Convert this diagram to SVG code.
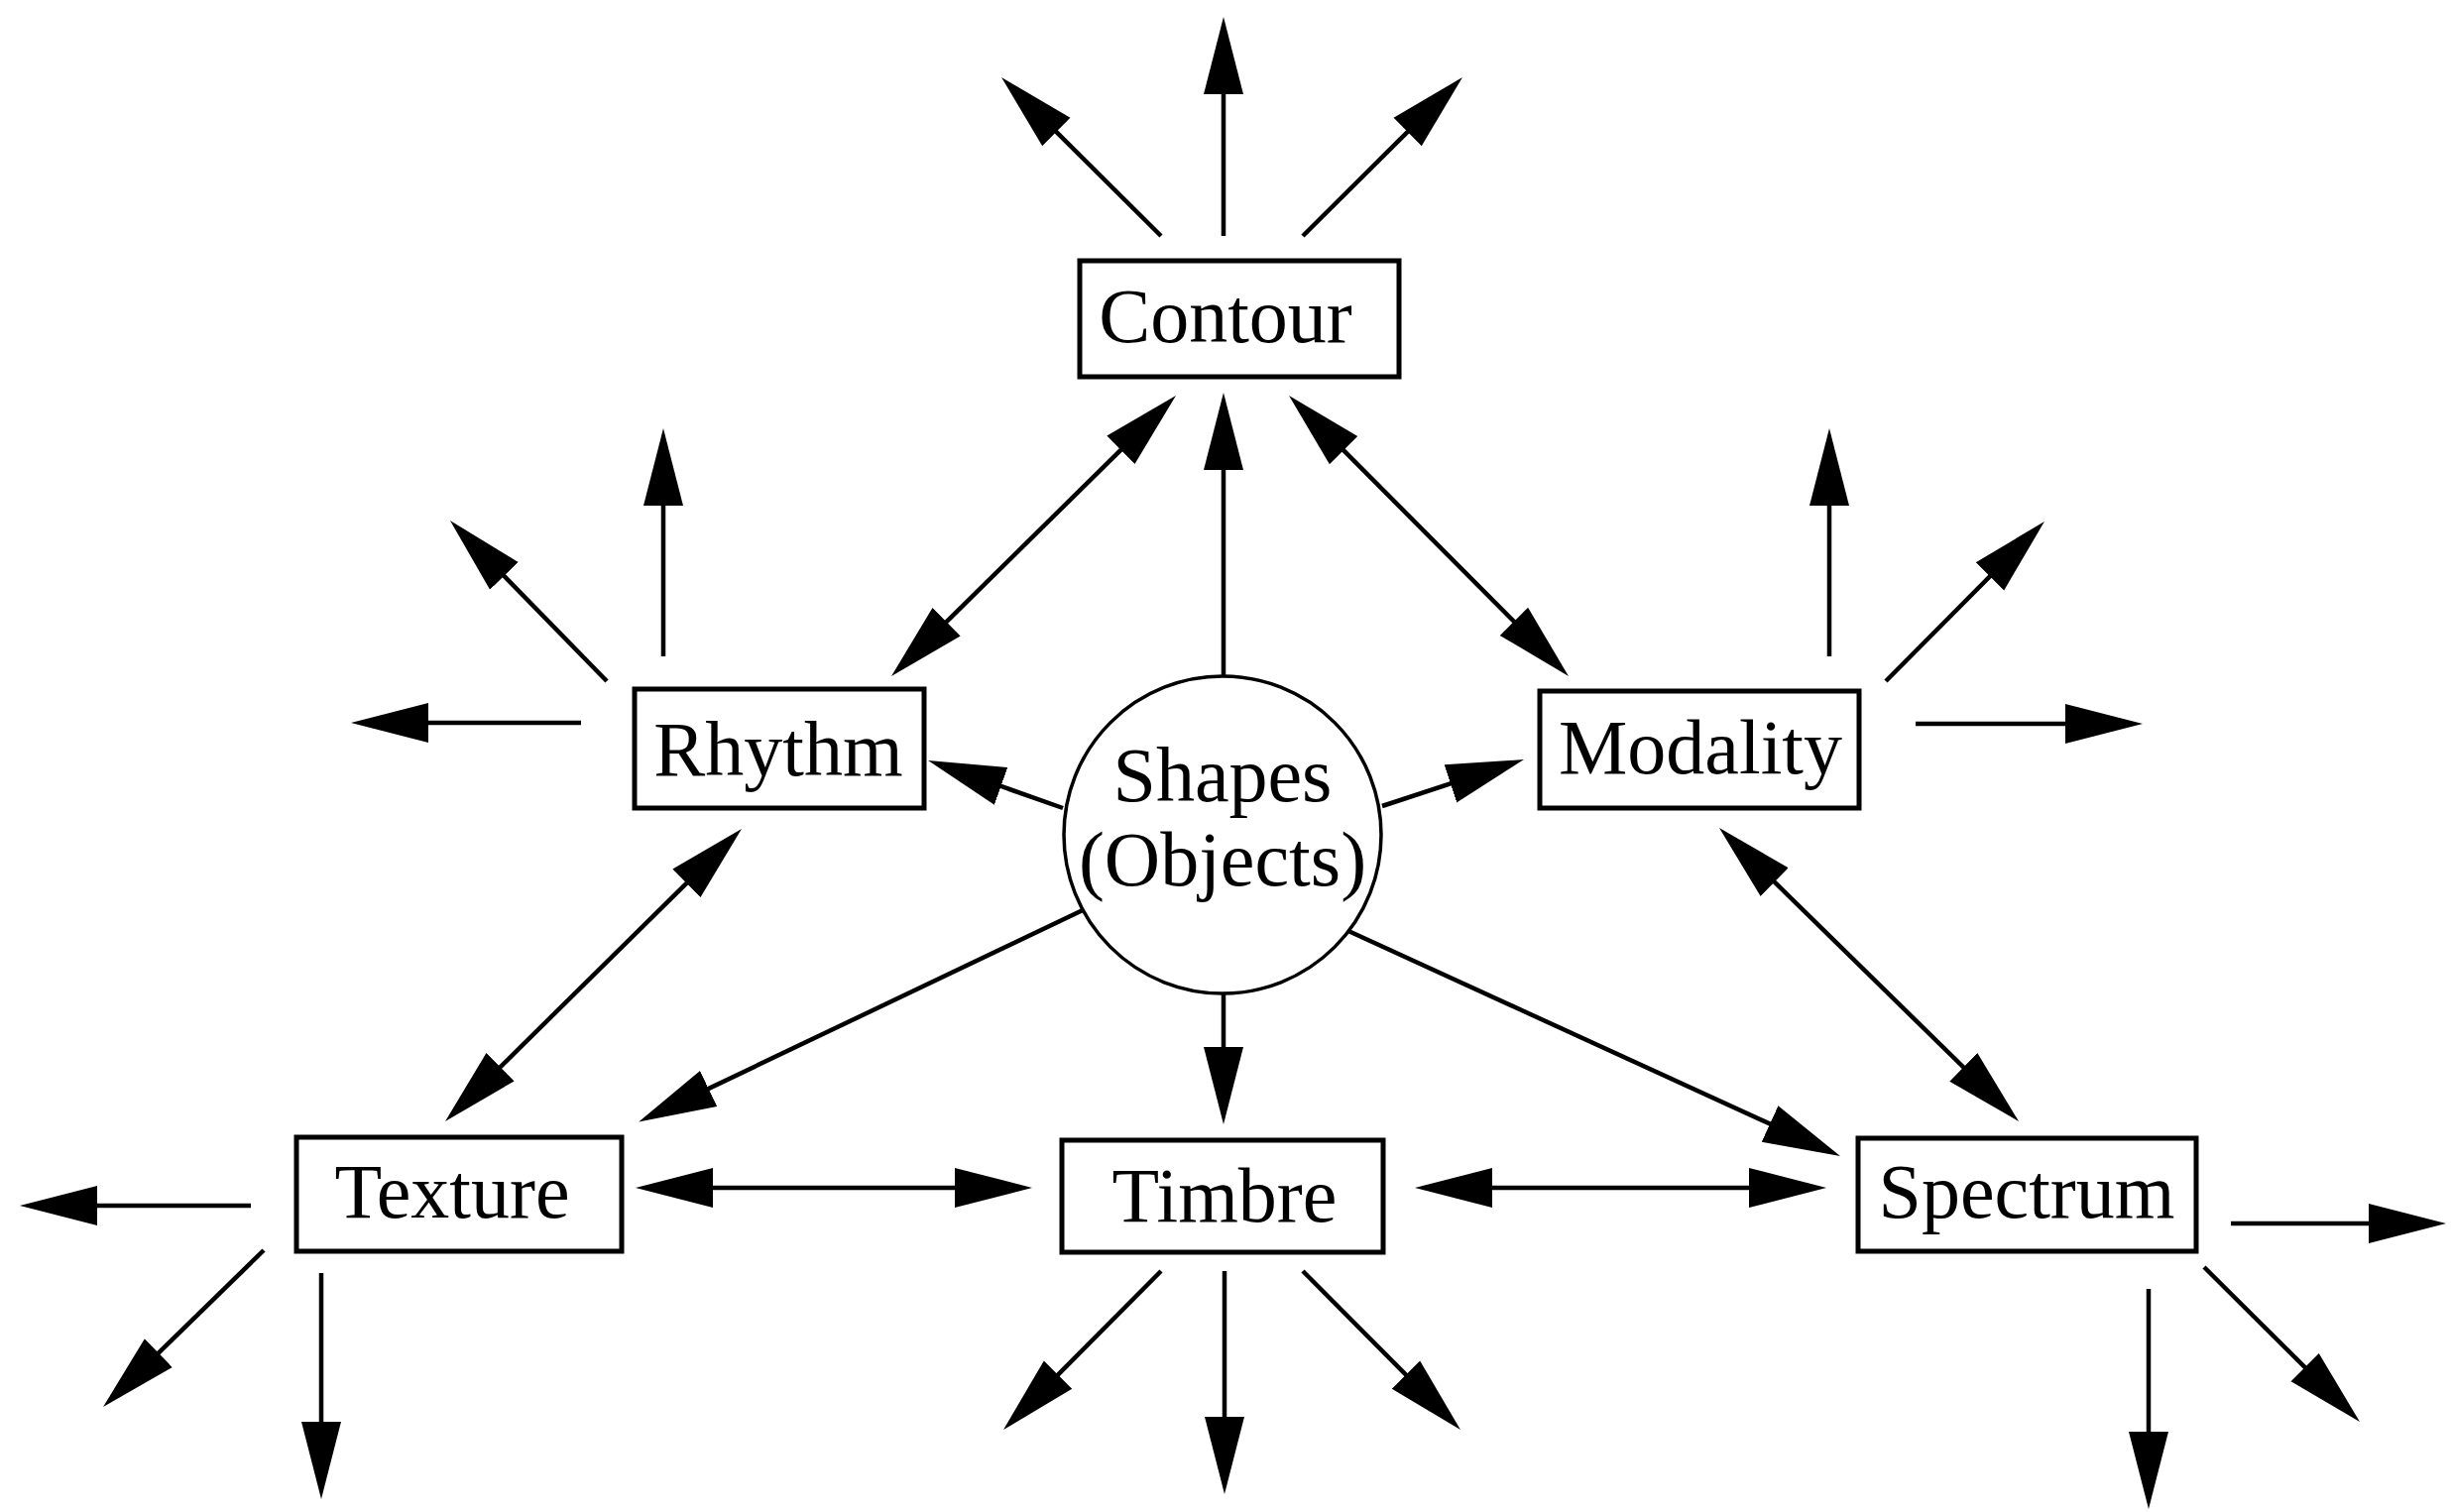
<svg xmlns="http://www.w3.org/2000/svg" width="2472" height="1525" viewBox="0 0 2472 1525">
<style>
.box{fill:#fff;stroke:#000;stroke-width:5}
.circ{fill:#fff;stroke:#000;stroke-width:3.5}
.lbl{font-family:"Liberation Serif","Times New Roman",serif;font-size:78px;fill:#000;text-anchor:middle}
.c line{stroke:#000;stroke-width:4.5;fill:none}
.e{marker-end:url(#ah)}
.b{marker-start:url(#ah);marker-end:url(#ah)}
</style>
<defs>
<marker id="ah" markerUnits="userSpaceOnUse" markerWidth="80" markerHeight="42" viewBox="0 0 80 42" refX="48" refY="21" orient="auto-start-reverse">
<path d="M0,1 L78,21 L0,41 z" fill="#000"/>
</marker>
</defs>
<rect width="2472" height="1525" fill="#fff"/>
<g id="connectors" class="c">
<line class="e" x1="1234" y1="238" x2="1234" y2="47"/>
<line class="e" x1="1171" y1="238" x2="1031.3" y2="99.1"/>
<line class="e" x1="1314" y1="238" x2="1453.7" y2="99.1"/>
<line class="e" x1="669" y1="662" x2="669" y2="462"/>
<line class="e" x1="612" y1="687" x2="474.9" y2="546.5"/>
<line class="e" x1="586" y1="729" x2="384" y2="729"/>
<line class="e" x1="1845" y1="662" x2="1845" y2="462"/>
<line class="e" x1="1902" y1="687" x2="2040.8" y2="547.3"/>
<line class="e" x1="1932" y1="730" x2="2131" y2="730"/>
<line class="e" x1="253" y1="1216" x2="50" y2="1216"/>
<line class="e" x1="266" y1="1261" x2="125.5" y2="1398.1"/>
<line class="e" x1="324" y1="1284" x2="324" y2="1482"/>
<line class="e" x1="1171" y1="1282" x2="1033.2" y2="1420.7"/>
<line class="e" x1="1235" y1="1282" x2="1235" y2="1477"/>
<line class="e" x1="1314" y1="1282" x2="1451.8" y2="1420.7"/>
<line class="e" x1="2250" y1="1234" x2="2437" y2="1234"/>
<line class="e" x1="2167" y1="1300" x2="2167" y2="1492"/>
<line class="e" x1="2223" y1="1278" x2="2358.7" y2="1412.9"/>
<line class="e" x1="1234" y1="681" x2="1234" y2="426"/>
<line class="b" x1="1164.6" y1="420.1" x2="920.4" y2="660.9"/>
<line class="b" x1="1321.2" y1="420.2" x2="1560.8" y2="660.8"/>
<line class="e" x1="1072" y1="815" x2="964.3" y2="777"/>
<line class="e" x1="1394" y1="813" x2="1508.5" y2="775.4"/>
<line class="b" x1="726.6" y1="857.1" x2="470.4" y2="1109.9"/>
<line class="b" x1="1755.4" y1="856" x2="2014.6" y2="1110"/>
<line class="e" x1="1092" y1="918" x2="671.3" y2="1118.6"/>
<line class="e" x1="1234" y1="1002" x2="1234" y2="1104"/>
<line class="e" x1="1360" y1="939" x2="1828.7" y2="1153.5"/>
<line class="b" x1="671" y1="1198" x2="1011" y2="1198"/>
<line class="b" x1="1457" y1="1198" x2="1812" y2="1198"/>
</g>
<g id="contour"><rect class="box" x="1089" y="263" width="322" height="117"/><text class="lbl" x="1236" y="345">Contour</text></g>
<g id="rhythm"><rect class="box" x="640" y="695" width="292" height="120"/><text class="lbl" x="785" y="782">Rhythm</text></g>
<g id="modality"><rect class="box" x="1553" y="697" width="322" height="118"/><text class="lbl" x="1715" y="780">Modality</text></g>
<g id="shapes"><circle class="circ" cx="1233" cy="842" r="160"/><text class="lbl" x="1233" y="808">Shapes</text><text class="lbl" x="1233" y="893">(Objects)</text></g>
<g id="texture"><rect class="box" x="299" y="1147" width="328" height="115"/><text class="lbl" x="456" y="1228">Texture</text></g>
<g id="timbre"><rect class="box" x="1071" y="1150" width="324" height="113"/><text class="lbl" x="1235" y="1232">Timbre</text></g>
<g id="spectrum"><rect class="box" x="1874" y="1148" width="341" height="114"/><text class="lbl" x="2044" y="1228">Spectrum</text></g>
</svg>
